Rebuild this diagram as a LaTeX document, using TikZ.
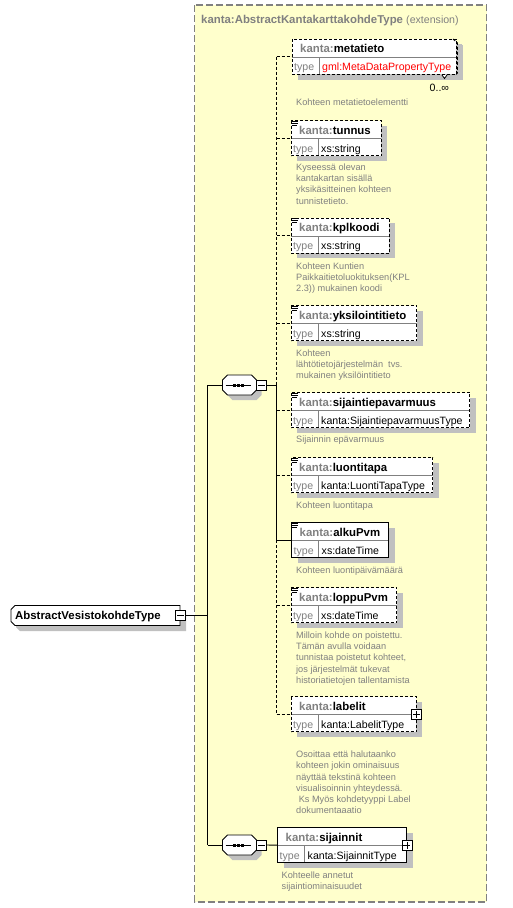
\documentclass[tikz,border=0pt]{standalone}
\usepackage{fontspec}
\setmainfont{Liberation Sans}
\definecolor{bgy}{HTML}{FFFFCC}
\definecolor{gtxt}{HTML}{808080}
\definecolor{shd}{HTML}{C0C0C0}
\definecolor{tred}{HTML}{FF0000}
\definecolor{bord}{HTML}{808080}
\tikzset{
  dashln/.style={line width=0.9pt, dash pattern=on 3pt off 2pt},
  solidln/.style={line width=0.9pt},
  hdr/.style={font=\fontsize{11.4}{13}\selectfont\bfseries, anchor=base west, inner sep=0pt},
  typl/.style={font=\fontsize{10.6}{12}\selectfont, anchor=base west, inner sep=0pt},
  desc/.style={font=\fontsize{9.2}{11.2}\selectfont, text=gtxt, align=left, anchor=north west, inner sep=0pt},
  elbox/.style={inner sep=0pt, anchor=north west, minimum height=35pt},
  pmbox/.style={draw, fill=white, line width=0.8pt, minimum size=10pt, inner sep=0pt},
}
\newcommand\docicon[2]{%
  \draw[line width=0.8pt] (#1,#2) -- ++(6,0) (#1,#2+2) -- ++(6,0) (#1,#2+4) -- ++(5,0);
}
\newcommand\dsc[4]{% name, x, first baseline, text
  \node[desc] (#1) at (#2,#3-7.2) {\rule{0pt}{7.2pt}#4};
}
\newcommand\xel[8]{%
  \fill[shd] (#2+6,#3+5) rectangle (#4+6,#3+40);
  \node[elbox, fill=white, minimum width={#4-#2}] (#1) at (#2,#3) {};
  \draw[gtxt, line width=0.8pt] (#2,#3+18) -- (#4,#3+18) (#2+27,#3+18) -- (#2+27,#3+35);
  \draw[#5] (#1.north west) rectangle (#1.south east);
  \node[hdr] (#1h) at (#2+8,#3+13.5) {\textcolor{gtxt}{kanta:}#6};
  \node[typl, text=gtxt] (#1t) at (#2+2,#3+31.5) {type};
  \node[typl, text=#8] (#1v) at (#2+30,#3+31.5) {#7};
}
\newcommand\octshape[5]{%
  \path[#5] (#1+5,#2) -- (#3-5,#2) -- (#3,#2+5) -- (#3,#4-5) -- (#3-5,#4) -- (#1+5,#4) -- (#1,#4-5) -- (#1,#2+5) -- cycle;
}
\newcommand\seqicon[2]{% centre x, y
  \draw[line width=0.9pt] (#1-14,#2) -- (#1+11,#2);
  \fill (#1-6.5,#2-1.5) rectangle ++(3,3);
  \fill (#1-2.5,#2-1.5) rectangle ++(3,3);
  \fill (#1+1.5,#2-1.5) rectangle ++(3,3);
}
\begin{document}
\begin{tikzpicture}[x=1pt,y=-1pt]
\useasboundingbox (0,0) rectangle (512,908);
\fill[white] (0,0) rectangle (512,908);
% extension area
\filldraw[fill=bgy, draw=bord, line width=1.2pt, dash pattern=on 7pt off 3pt] (194.5,5) rectangle (486.5,902);
\node[hdr, text=gtxt] (title) at (201,23) {kanta:AbstractKantakarttakohdeType {\mdseries\fontsize{10.6}{12}\selectfont(extension)}};

% metatieto (multiple)
\fill[shd] (298,45) rectangle (463,80);
\xel{metatieto}{292}{39}{456}{dashln}{metatieto}{gml:MetaDataPropertyType}{tred}
\draw[dashln] (453,39) -- (457.5,43) -- (457.5,73) -- (455.5,75);
\filldraw[fill=white, line width=0.8pt] (442,75) -- (444.5,78.5) -- (447,75);
\node[typl] (occ) at (429.5,91) {0..∞};
\dsc{d1}{296}{105.2}{Kohteen metatietoelementti}

\xel{tunnus}{291}{120.5}{381}{dashln}{tunnus}{xs:string}{black}
\docicon{291.5}{121}
\dsc{d2}{296}{170.2}{Kyseessä olevan\\kantakartan sisällä\\yksikäsitteinen kohteen\\tunnistetieto.}

\xel{kplkoodi}{291}{218}{389}{dashln}{kplkoodi}{xs:string}{black}
\docicon{291.5}{218.5}
\dsc{d3}{296}{268.9}{Kohteen Kuntien\\Paikkaitietoluokituksen(KPL\\2.3)) mukainen koodi}

\xel{yksil}{291}{305.5}{416.5}{dashln}{yksilointitieto}{xs:string}{black}
\docicon{291.5}{306}
\dsc{d4}{296}{355.9}{Kohteen\\lähtötietojärjestelmän\ \ tvs.\\mukainen yksilöintitieto}

\xel{sijepa}{291}{392.5}{469.5}{dashln}{sijaintiepavarmuus}{kanta:SijaintiepavarmuusType}{black}
\docicon{291.5}{393}
\dsc{d5}{296}{442.2}{Sijainnin epävarmuus}

\xel{luonti}{291}{457.5}{432.5}{dashln}{luontitapa}{kanta:LuontiTapaType}{black}
\docicon{291.5}{458}
\dsc{d6}{296}{507.9}{Kohteen luontitapa}

\xel{alku}{291.5}{522.5}{388.5}{solidln}{alkuPvm}{xs:dateTime}{black}
\docicon{292}{523}
\dsc{d7}{296}{573.2}{Kohteen luontipäivämäärä}

\xel{loppu}{291}{587.5}{396.5}{dashln}{loppuPvm}{xs:dateTime}{black}
\docicon{291.5}{588}
\dsc{d8}{296}{638.2}{Milloin kohde on poistettu.\\Tämän avulla voidaan\\tunnistaa poistetut kohteet,\\jos järjestelmät tukevat\\historiatietojen tallentamista}

\xel{labelit}{291}{696.5}{416}{dashln}{labelit}{kanta:LabelitType}{black}
\node[pmbox] (labelitp) at (labelit.east) {};
\draw[line width=0.8pt] ([xshift=-3.5pt]labelitp.center) -- ([xshift=3.5pt]labelitp.center) ([yshift=-3.5pt]labelitp.center) -- ([yshift=3.5pt]labelitp.center);
\dsc{d9}{296}{757.5}{Osoittaa että halutaanko\\kohteen jokin ominaisuus\\näyttää tekstinä kohteen\\visualisoinnin yhteydessä.\\\ Ks Myös kohdetyyppi Label\\dokumentaaatio}

\xel{sijainnit}{277.5}{827.5}{406.5}{solidln}{sijainnit}{kanta:SijainnitType}{black}
\node[pmbox] (sijainnitp) at (sijainnit.east) {};
\draw[line width=0.8pt] ([xshift=-3.5pt]sijainnitp.center) -- ([xshift=3.5pt]sijainnitp.center) ([yshift=-3.5pt]sijainnitp.center) -- ([yshift=3.5pt]sijainnitp.center);
\dsc{d10}{281.5}{878.2}{Kohteelle annetut\\sijaintiominaisuudet}

% sequence compositors
\octshape{227.5}{380}{261.5}{400}{fill=shd}
\octshape{222.5}{375}{256.5}{395}{fill=white, draw=black, line width=0.9pt}
\node[inner sep=0pt, minimum width=34pt, minimum height=20pt] (seq1) at (239.5,385) {};
\seqicon{239.5}{385}
\node[pmbox] (seq1m) at (261.5,385) {};
\draw[line width=0.8pt] ([xshift=-3.5pt]seq1m.center) -- ([xshift=3.5pt]seq1m.center);

\octshape{227.5}{840}{261.5}{860}{fill=shd}
\octshape{222.5}{835}{256.5}{855}{fill=white, draw=black, line width=0.9pt}
\node[inner sep=0pt, minimum width=34pt, minimum height=20pt] (seq2) at (239.5,845) {};
\seqicon{239.5}{845}
\node[pmbox] (seq2m) at (261.5,845) {};
\draw[line width=0.8pt] ([xshift=-3.5pt]seq2m.center) -- ([xshift=3.5pt]seq2m.center);

% root
\path[fill=shd] (20,611) -- (186,611) -- (186,631) -- (20,631) -- (16,627) -- (16,615) -- cycle;
\path[fill=white, draw=black, line width=0.9pt] (15,605.5) -- (180,605.5) -- (180,625.5) -- (15,625.5) -- (11,621.5) -- (11,609.5) -- cycle;
\node[inner sep=0pt, minimum width=169pt, minimum height=20pt, anchor=west] (root) at (11,615.5) {};
\node[hdr] (roottxt) at (15,619.8) {AbstractVesistokohdeType};
\node[pmbox] (rootm) at (root.east) {};
\draw[line width=0.8pt] ([xshift=-3.5pt]rootm.center) -- ([xshift=3.5pt]rootm.center);

% connectors
\coordinate (L) at (207.5,0);
\coordinate (R) at (276.5,0);
\draw[solidln] (rootm.east) -- (rootm.east -| L);
\draw[solidln] (seq1.west -| L) -- (seq2.west -| L);
\draw[solidln] (seq1.west -| L) -- (seq1.west);
\draw[solidln] (seq2.west -| L) -- (seq2.west);
\draw[solidln] (seq1m.east) -- (seq1m.east -| R);
\draw[solidln] (seq2m.east) -- (sijainnit.west);
\draw[dashln] (metatieto.west -| R) -- (seq1m.east -| R);
\draw[solidln] (seq1m.east -| R) -- (alku.west -| R);
\draw[dashln] (alku.west -| R) -- (labelit.west -| R);
\foreach \n in {metatieto,tunnus,kplkoodi,yksil,sijepa,luonti,loppu,labelit}
  \draw[dashln] (\n.west -| R) -- (\n.west);
\draw[solidln] (alku.west -| R) -- (alku.west);
\end{tikzpicture}
\end{document}
